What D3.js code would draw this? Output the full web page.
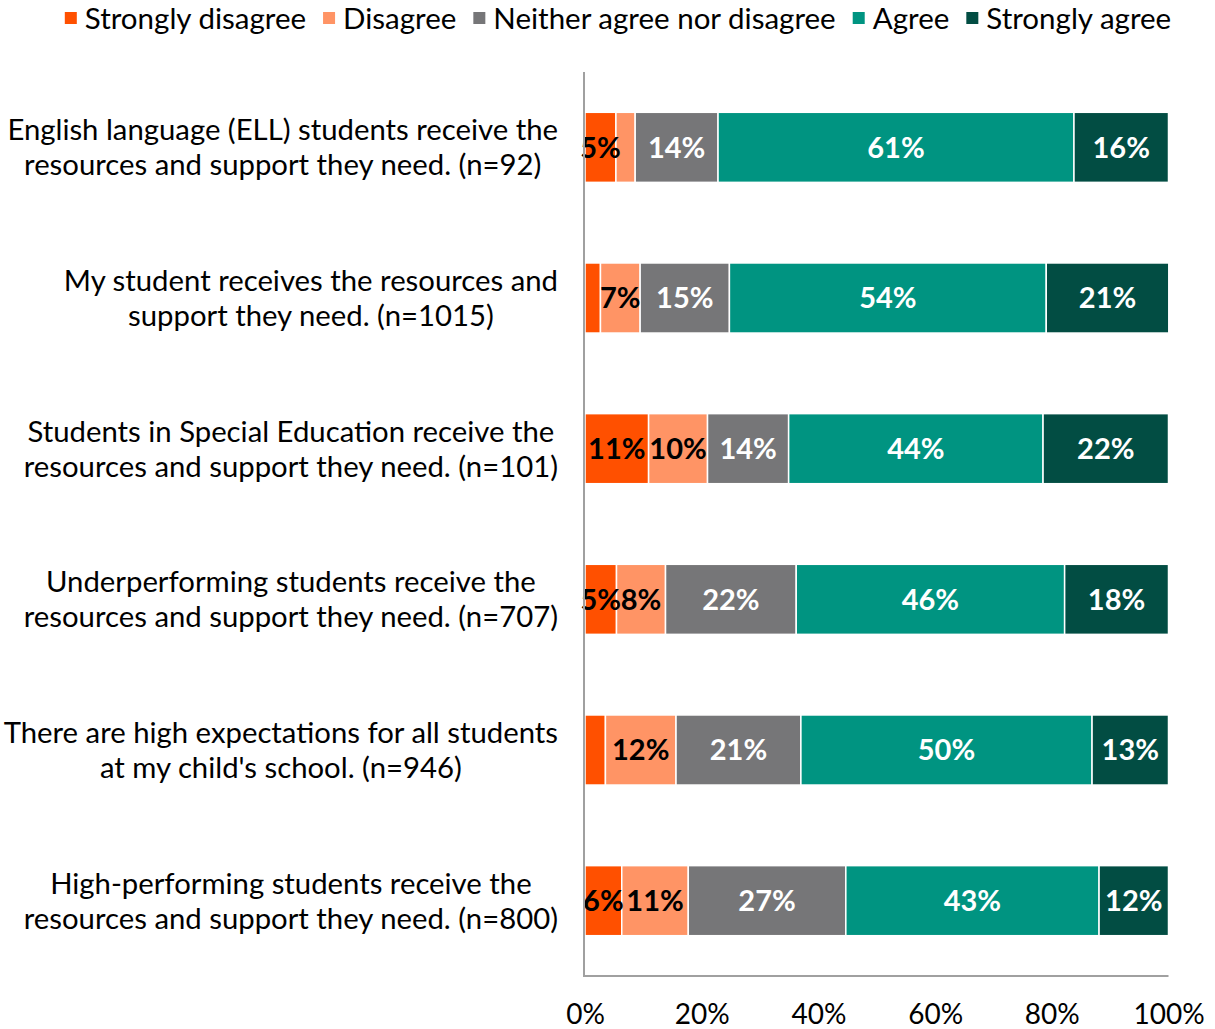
<!DOCTYPE html>
<html>
<head>
<meta charset="utf-8">
<script src="https://cdn.jsdelivr.net/npm/d3@7"></script>
<style>
  html, body { margin: 0; padding: 0; background: #fff; }
  svg { display: block; }
  text { font-family: Lato, "Noto Sans", sans-serif; }
</style>
</head>
<body>
<svg id="chart" width="1215" height="1029"></svg>
<script>
// ---- data ----
const categories = [
  ["English language (ELL) students receive the", "resources and support they need. (n=92)"],
  ["My student receives the resources and", "support they need. (n=1015)"],
  ["Students in Special Education receive the", "resources and support they need. (n=101)"],
  ["Underperforming students receive the", "resources and support they need. (n=707)"],
  ["There are high expectations for all students", "at my child's school. (n=946)"],
  ["High-performing students receive the", "resources and support they need. (n=800)"]
];
const seriesNames = ["Strongly disagree", "Disagree", "Neither agree nor disagree", "Agree", "Strongly agree"];
const stronglyDisagree = [5.3, 2.65, 10.9, 5.4, 3.5, 6.3];
const disagree         = [3.3, 6.8, 10.1, 8.4, 12.1, 11.4];
const neither          = [14.2, 15.3, 13.9, 22.4, 21.4, 27.0];
const agree            = [61.0, 54.3, 43.6, 46.0, 49.9, 43.4];
const stronglyAgree    = [16.2, 21.0, 21.5, 17.8, 13.1, 11.9];
const tickValues = [0, 20, 40, 60, 80, 100];

const colors = ["#FF5000", "#FF9465", "#767678", "#009481", "#024D43"];
const labelColors = ["#000", "#000", "#fff", "#fff", "#fff"];

// ---- build table ----
const keys = ["sd", "d", "n", "a", "sa"];
const rows = categories.map((c, i) => ({
  id: i, sd: stronglyDisagree[i], d: disagree[i], n: neither[i], a: agree[i], sa: stronglyAgree[i]
}));
const stacked = d3.stack().keys(keys)(rows);

const svg = d3.select("#chart");
const x = d3.scaleLinear().domain([0, 100]).range([585, 1168.5]);
const y = d3.scaleBand().domain(d3.range(categories.length)).range([72, 976])
  .paddingInner(0.535).paddingOuter(0.2675);

// bars
const g = svg.append("g");
stacked.forEach((layer, k) => {
  g.append("g").selectAll("rect").data(layer).join("rect")
    .attr("x", d => x(d[0]))
    .attr("y", d => y(d.data.id))
    .attr("width", d => x(d[1]) - x(d[0]))
    .attr("height", y.bandwidth())
    .attr("fill", colors[k])
    .attr("stroke", "#fff")
    .attr("stroke-width", 1.5);
});
// labels
stacked.forEach((layer, k) => {
  g.append("g").selectAll("text").data(layer.filter(d => d[1] - d[0] >= 4.5)).join("text")
    .attr("x", d => (x(d[0]) + x(d[1])) / 2)
    .attr("y", d => y(d.data.id) + y.bandwidth() / 2)
    .attr("dy", "0.36em")
    .attr("text-anchor", "middle")
    .attr("font-size", 29)
    .attr("font-weight", "bold")
    .attr("fill", labelColors[k])
    .text(d => Math.round(d[1] - d[0]) + "%");
});

// axes
const axisColor = "#A0A0A0";
svg.append("line").attr("x1", 584).attr("x2", 584).attr("y1", 72).attr("y2", 977)
  .attr("stroke", axisColor).attr("stroke-width", 2);
svg.append("line").attr("x1", 583).attr("x2", x(100)).attr("y1", 976).attr("y2", 976)
  .attr("stroke", axisColor).attr("stroke-width", 2);

const xAxis = svg.append("g").attr("transform", "translate(0,976)")
  .call(d3.axisBottom(x).tickValues(tickValues).tickSize(0).tickPadding(0).tickFormat(d => d + "%"));
xAxis.select(".domain").remove();
xAxis.selectAll("text").attr("font-size", 28).attr("fill", "#000")
  .attr("font-family", "Lato, 'Noto Sans', sans-serif").attr("dy", null).attr("y", 48);

// category labels
const rightEdge = 558;
categories.forEach((lines, i) => {
  const cy = y(i) + y.bandwidth() / 2;
  const grp = svg.append("g");
  const texts = lines.map((line, j) => grp.append("text")
    .attr("y", cy + (j - (lines.length - 1) / 2) * 35)
    .attr("dy", "0.36em")
    .attr("text-anchor", "middle")
    .attr("font-size", 29.3)
    .attr("fill", "#000")
    .text(line));
  const maxW = d3.max(texts, t => t.node().getComputedTextLength());
  texts.forEach(t => t.attr("x", rightEdge - maxW / 2));
});

// legend
const legend = svg.append("g");
let lx = 0;
seriesNames.forEach((name, k) => {
  const item = legend.append("g").attr("transform", `translate(${lx},0)`);
  item.append("rect").attr("x", 0).attr("y", 12).attr("width", 12).attr("height", 12).attr("fill", colors[k]);
  const t = item.append("text").attr("x", 20).attr("y", 18).attr("dy", "0.36em")
    .attr("font-size", 29.5).attr("fill", "#000").text(name);
  lx += 20 + t.node().getComputedTextLength() + 17;
});
const totalW = lx - 17;
legend.attr("transform", `translate(${(66 + 1170) / 2 - totalW / 2},0)`);
</script>
</body>
</html>
